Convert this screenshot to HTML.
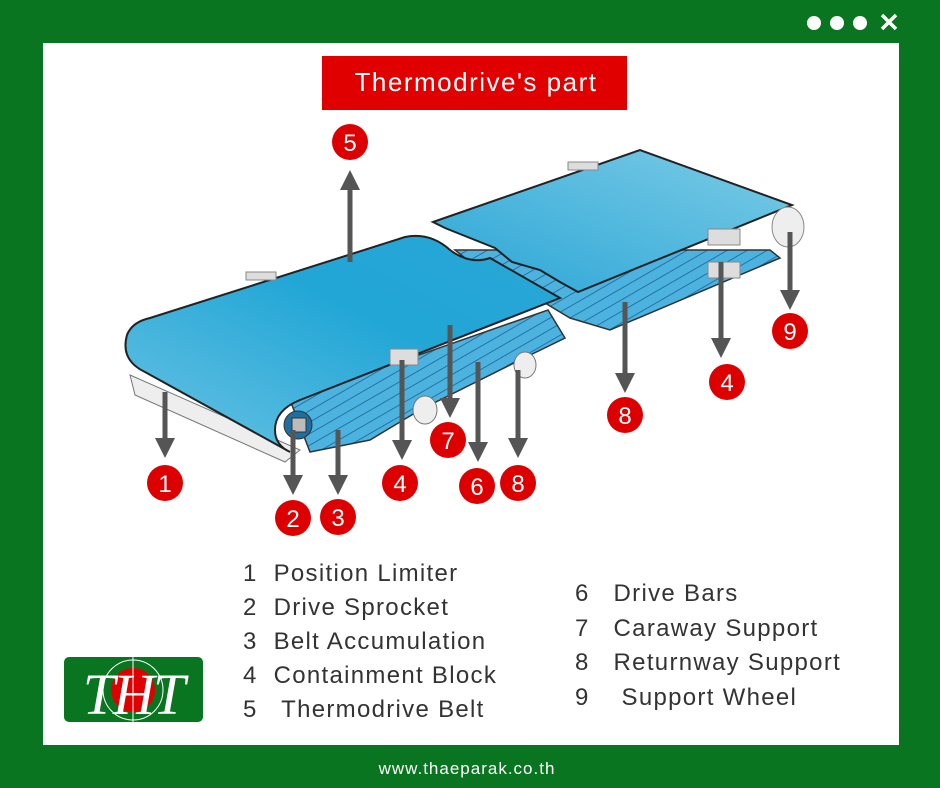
<!DOCTYPE html>
<html><head><meta charset="utf-8"><style>
body{margin:0;width:940px;height:788px;background:#0a7520;position:relative;overflow:hidden;font-family:"Liberation Sans",sans-serif}
.panel{position:absolute;left:43px;top:43px;width:856px;height:702px;background:#fff}
.t{position:absolute;color:#333;font-size:24px;white-space:pre;letter-spacing:1.3px}
</style></head><body>
<div class="panel"></div>
<svg width="940" height="788" style="position:absolute;left:0;top:0">
<defs>
<linearGradient id="bg1" x1="0" y1="1" x2="1" y2="0"><stop offset="0" stop-color="#6cc3e3"/><stop offset="0.6" stop-color="#21a6d6"/><stop offset="1" stop-color="#2aa7d6"/></linearGradient>
<linearGradient id="bg2" x1="0" y1="1" x2="1" y2="0"><stop offset="0" stop-color="#2aa6d6"/><stop offset="1" stop-color="#7ccbe6"/></linearGradient>
<pattern id="rib" width="10" height="10" patternUnits="userSpaceOnUse" patternTransform="rotate(60)"><rect width="10" height="10" fill="#4cb2e0"/><line x1="0" y1="0" x2="0" y2="10" stroke="#1a5e88" stroke-width="1.5"/></pattern>
<marker id="ah" markerWidth="4" markerHeight="4" refX="2" refY="2" orient="auto"><path d="M0,0 L4,2 L0,4z" fill="#555"/></marker>
</defs>
<circle cx="814" cy="23" r="7" fill="#fff"/><circle cx="837" cy="23" r="7" fill="#fff"/><circle cx="860" cy="23" r="7" fill="#fff"/>
<path d="M882,15 L896,29 M896,15 L882,29" stroke="#fff" stroke-width="3.5"/>
<rect x="322" y="56" width="305" height="54" fill="#e00000"/>
<text x="476" y="91" fill="#fff" font-size="26" text-anchor="middle" letter-spacing="1.5" font-family="Liberation Sans">Thermodrive's part</text>
<path d="M455,250 L770,250 L780,258 L610,330 L570,318 L540,300 L500,275 L470,262z" fill="url(#rib)" stroke="#333" stroke-width="1.5"/>
<path d="M433,222 L640,150 L792,205 L578,292 L560,282 L540,270 L512,262 L495,248 L470,238 L445,228z" fill="url(#bg2)" stroke="#222" stroke-width="2"/>
<rect x="708" y="229" width="32" height="16" fill="#ddd" stroke="#888"/>
<rect x="708" y="262" width="32" height="16" fill="#ddd" stroke="#888"/>
<ellipse cx="788" cy="227" rx="16" ry="20" fill="#eee" stroke="#888"/>
<rect x="568" y="162" width="30" height="8" fill="#ddd" stroke="#888"/>
<path d="M290,400 L548,310 L565,338 L520,360 L420,410 L370,440 L310,452z" fill="url(#rib)" stroke="#333" stroke-width="1.5"/>
<path d="M130,375 L300,450 L285,462 L135,395z" fill="#eee" stroke="#777"/>
<path d="M150,318 L405,237 Q430,232 450,250 Q470,265 490,258 L560,298 L300,400 Q275,410 275,430 Q275,445 290,452 L145,372 Q120,360 127,335 Q132,322 150,318z" fill="url(#bg1)" stroke="#222" stroke-width="2"/>
<circle cx="298" cy="425" r="14" fill="#1e6fa0" stroke="#333"/><rect x="292" y="418" width="14" height="14" fill="#bbb" stroke="#333"/>
<rect x="390" y="349" width="28" height="16" fill="#ddd" stroke="#888"/>
<ellipse cx="425" cy="410" rx="12" ry="14" fill="#eee" stroke="#777"/>
<ellipse cx="525" cy="365" rx="11" ry="13" fill="#eee" stroke="#777"/>
<rect x="246" y="272" width="30" height="8" fill="#ddd" stroke="#888"/>
<g stroke="#555" stroke-width="5" marker-end="url(#ah)" fill="none">
<line x1="350" y1="262" x2="350" y2="180"/>
<line x1="165" y1="392" x2="165" y2="448"/>
<line x1="293" y1="430" x2="293" y2="485"/>
<line x1="338" y1="430" x2="338" y2="485"/>
<line x1="402" y1="360" x2="402" y2="450"/>
<line x1="450" y1="325" x2="450" y2="408"/>
<line x1="478" y1="362" x2="478" y2="452"/>
<line x1="518" y1="370" x2="518" y2="448"/>
<line x1="625" y1="302" x2="625" y2="383"/>
<line x1="721" y1="262" x2="721" y2="348"/>
<line x1="790" y1="232" x2="790" y2="300"/>
</g>
<g fill="#dd0000"><circle cx="350" cy="142" r="18"/><circle cx="165" cy="483" r="18"/><circle cx="293" cy="518" r="18"/><circle cx="338" cy="517" r="18"/><circle cx="400" cy="483" r="18"/><circle cx="448" cy="440" r="18"/><circle cx="477" cy="486" r="18"/><circle cx="518" cy="483" r="18"/><circle cx="625" cy="415" r="18"/><circle cx="727" cy="382" r="18"/><circle cx="790" cy="331" r="18"/></g>
<g fill="#fff" font-size="24" text-anchor="middle" font-family="Liberation Sans">
<text x="350" y="151">5</text><text x="165" y="492">1</text><text x="293" y="527">2</text><text x="338" y="526">3</text><text x="400" y="492">4</text><text x="448" y="449">7</text><text x="477" y="495">6</text><text x="518" y="492">8</text><text x="625" y="424">8</text><text x="727" y="391">4</text><text x="790" y="340">9</text></g>
<rect x="64" y="657" width="139" height="65" rx="5" fill="#0a7520"/>
<circle cx="133" cy="690" r="22" fill="#e00000"/>
<circle cx="133" cy="690" r="30" fill="none" stroke="#fff" stroke-width="1"/>
<line x1="133" y1="657" x2="133" y2="722" stroke="#fff"/>
<text x="133" y="714" fill="#fff" font-size="58" font-style="italic" text-anchor="middle" font-family="Liberation Serif" letter-spacing="-2">THT</text>
<text x="467" y="774" fill="#fff" font-size="17" text-anchor="middle" letter-spacing="1" font-family="Liberation Sans">www.thaeparak.co.th</text>
</svg>
<div class="t" style="left:243px;top:560px">1  Position Limiter</div>
<div class="t" style="left:243px;top:594px">2  Drive Sprocket</div>
<div class="t" style="left:243px;top:628px">3  Belt Accumulation</div>
<div class="t" style="left:243px;top:662px">4  Containment Block</div>
<div class="t" style="left:243px;top:696px">5   Thermodrive Belt</div>
<div class="t" style="left:575px;top:580px">6   Drive Bars</div>
<div class="t" style="left:575px;top:615px">7   Caraway Support</div>
<div class="t" style="left:575px;top:649px">8   Returnway Support</div>
<div class="t" style="left:575px;top:684px">9    Support Wheel</div>
</body></html>
